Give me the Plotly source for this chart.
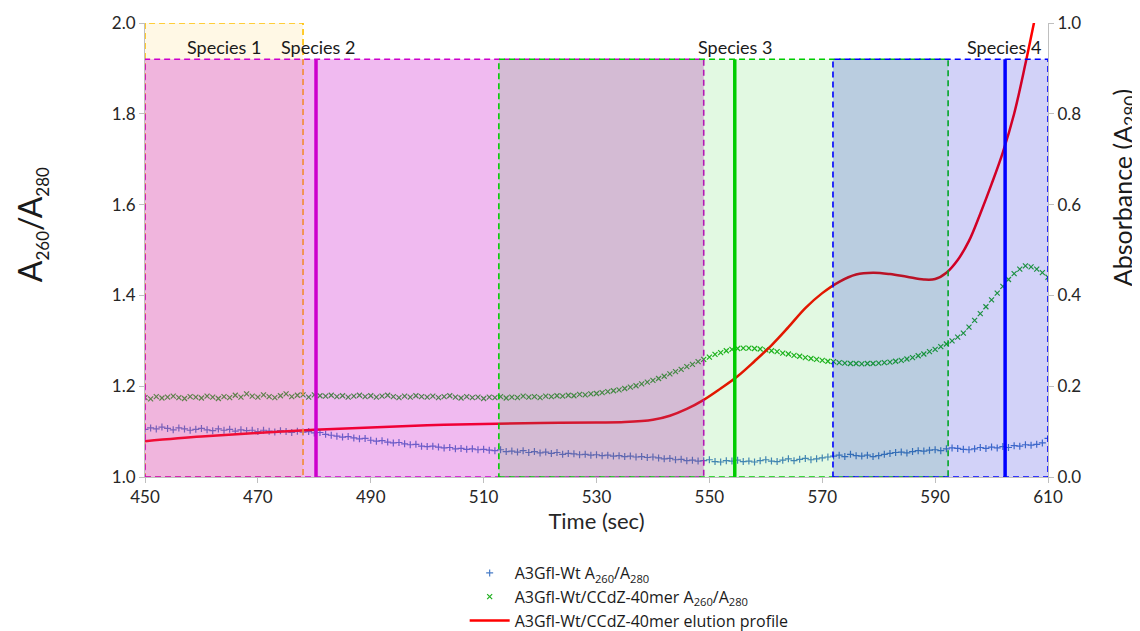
import plotly.graph_objects as go

# ---------------- data ----------------
time_ratio = list(range(450, 611))

wt_ratio = [
    1.105, 1.108, 1.106, 1.110, 1.107, 1.104, 1.108, 1.106, 1.103, 1.105,
    1.107, 1.104, 1.102, 1.106, 1.103, 1.105, 1.101, 1.104, 1.102, 1.103,
    1.100, 1.103, 1.101, 1.099, 1.102, 1.100, 1.098, 1.101, 1.099, 1.100,
    1.097, 1.098, 1.094, 1.092, 1.090, 1.088, 1.089, 1.086, 1.084, 1.085,
    1.081, 1.079, 1.080, 1.077, 1.075, 1.076, 1.073, 1.071, 1.072, 1.068,
    1.067, 1.068, 1.066, 1.064, 1.065, 1.062, 1.063, 1.061, 1.062, 1.060,
    1.061, 1.059, 1.058, 1.060, 1.056, 1.057, 1.055, 1.058, 1.054, 1.056,
    1.053, 1.055, 1.052, 1.054, 1.050, 1.052, 1.051, 1.049, 1.050, 1.048,
    1.049, 1.047, 1.048, 1.046, 1.047, 1.045, 1.046, 1.044, 1.045, 1.043,
    1.044, 1.042, 1.040, 1.041, 1.038, 1.039, 1.036, 1.037, 1.035, 1.036,
    1.038, 1.034, 1.033, 1.036, 1.035, 1.037, 1.034, 1.035, 1.033, 1.036,
    1.038, 1.035, 1.034, 1.037, 1.040, 1.036, 1.039, 1.041, 1.038, 1.040,
    1.042, 1.044, 1.046, 1.048, 1.045, 1.050, 1.047, 1.046, 1.048, 1.045,
    1.047, 1.050, 1.052, 1.054, 1.055, 1.053, 1.056, 1.058, 1.057, 1.059,
    1.060, 1.058, 1.062, 1.064, 1.063, 1.061, 1.060, 1.062, 1.065, 1.063,
    1.066, 1.064, 1.067, 1.065, 1.069, 1.068, 1.071, 1.070, 1.072, 1.075,
    1.085,
]

complex_ratio = [
    1.175, 1.172, 1.177, 1.174, 1.176, 1.178, 1.175, 1.173, 1.177, 1.176,
    1.174, 1.178, 1.176, 1.173, 1.177, 1.175, 1.180, 1.176, 1.183, 1.178,
    1.176, 1.181, 1.177, 1.175, 1.179, 1.183, 1.177, 1.180, 1.181, 1.176,
    1.181, 1.179, 1.178, 1.180, 1.177, 1.179, 1.176, 1.178, 1.180, 1.177,
    1.179, 1.176, 1.178, 1.180, 1.177, 1.175, 1.178, 1.176, 1.179, 1.177,
    1.176, 1.178, 1.175, 1.177, 1.179, 1.176, 1.174, 1.177, 1.175, 1.176,
    1.173, 1.176, 1.175, 1.177, 1.174, 1.176, 1.175, 1.178, 1.176, 1.177,
    1.175, 1.178, 1.177, 1.179, 1.178, 1.180, 1.179, 1.182, 1.181, 1.183,
    1.184, 1.186, 1.188, 1.190, 1.192, 1.195, 1.198, 1.201, 1.205, 1.209,
    1.213, 1.217, 1.222, 1.227, 1.232, 1.237, 1.243, 1.248, 1.254, 1.259,
    1.264, 1.270, 1.274, 1.278, 1.281, 1.283, 1.284, 1.284, 1.283, 1.282,
    1.280, 1.278, 1.276, 1.273, 1.271, 1.268, 1.266, 1.263, 1.261, 1.259,
    1.257, 1.255, 1.254, 1.252, 1.251, 1.250, 1.250, 1.249, 1.250, 1.250,
    1.251, 1.252, 1.253, 1.255, 1.257, 1.260, 1.263, 1.267, 1.271, 1.276,
    1.281, 1.287, 1.293, 1.300, 1.308, 1.317, 1.330, 1.345, 1.360, 1.375,
    1.390, 1.405, 1.420, 1.435, 1.448, 1.458, 1.465, 1.463, 1.458, 1.450,
    1.440,
]

time_elution = [450, 460, 470, 480, 490, 500, 510, 520, 530, 535, 540, 543, 546,
                549, 552, 555, 558, 561, 564, 567, 570, 573, 576, 579, 582, 585,
                588, 590, 592, 594, 596, 598, 600, 602, 604, 606, 608]
elution_a280 = [0.079, 0.089, 0.097, 0.104, 0.109, 0.114, 0.117, 0.119, 0.120,
                0.121, 0.126, 0.135, 0.150, 0.170, 0.195, 0.222, 0.255, 0.290,
                0.330, 0.372, 0.405, 0.430, 0.446, 0.450, 0.447, 0.441, 0.435,
                0.436, 0.450, 0.478, 0.520, 0.580, 0.645, 0.715, 0.800, 0.910,
                1.030]

species_labels = ["Species 1", "Species 2", "Species 3", "Species 4"]
species_start = [450, 450, 512.7, 571.9]
species_end = [478, 549, 592.3, 610]
species_top = [2.0, 1.92, 1.92, 1.92]
species_peak = [None, 480.3, 554.5, 602.4]
species_label_x = [464, 480.6, 554.5, 602.2]
species_edge_color = ["#FFC000", "#CC00CC", "#00CC00", "#0000FF"]
species_fill = ["rgba(255,190,0,0.10)", "rgba(200,0,200,0.27)",
                "rgba(0,200,0,0.115)", "rgba(0,0,215,0.175)"]

x_ticks = list(range(450, 611, 20))

# ---------------- figure ----------------
FONT = "Lato, 'Open Sans', Arial, sans-serif"
LEGEND_FONT = "'Open Sans', Lato, Arial, sans-serif"
BLUE = "#4A7EC8"
GREEN = "#22B022"

fig = go.Figure()

fig.add_trace(go.Scatter(
    x=time_ratio, y=wt_ratio, mode="markers",
    name="A3Gfl-Wt A<sub>260</sub>/A<sub>280</sub>",
    marker=dict(symbol="cross-thin", size=5, color=BLUE,
                line=dict(width=1.2, color=BLUE)),
))
fig.add_trace(go.Scatter(
    x=time_ratio, y=complex_ratio, mode="markers",
    name="A3Gfl-Wt/CCdZ-40mer A<sub>260</sub>/A<sub>280</sub>",
    marker=dict(symbol="x-thin", size=5, color=GREEN,
                line=dict(width=1.2, color=GREEN)),
))
fig.add_trace(go.Scatter(
    x=time_elution, y=elution_a280, mode="lines", yaxis="y2",
    name="A3Gfl-Wt/CCdZ-40mer elution profile",
    line=dict(color="#FF0000", width=2.5, shape="spline", smoothing=1.0),
))

shapes = []
for i in range(len(species_labels)):
    shapes.append(dict(
        type="rect", xref="x", yref="y", layer="above",
        x0=species_start[i], x1=species_end[i], y0=1.0, y1=species_top[i],
        fillcolor=species_fill[i],
        line=dict(color=species_edge_color[i], width=1.6, dash="6px,4px"),
    ))
for i in range(len(species_labels)):
    if species_peak[i] is not None:
        shapes.append(dict(
            type="line", xref="x", yref="y", layer="above",
            x0=species_peak[i], x1=species_peak[i], y0=1.0, y1=species_top[i],
            line=dict(color=species_edge_color[i], width=3.5),
        ))

annotations = []
for i in range(len(species_labels)):
    annotations.append(dict(
        x=species_label_x[i], y=1.947, xref="x", yref="y",
        text=species_labels[i], showarrow=False,
        font=dict(family=FONT, size=18, color="#1a1a1a"),
        xanchor="center", yanchor="middle",
    ))
annotations.append(dict(
    x=-0.126, y=0.555, xref="paper", yref="paper",
    text="A<sub><span style='font-size:17px'>260</span></sub>/A"
         "<sub><span style='font-size:17px'>280</span></sub>",
    showarrow=False, textangle=-90,
    font=dict(family=FONT, size=32, color="#1a1a1a"),
    xanchor="center", yanchor="middle",
))
annotations.append(dict(
    x=1.0835, y=0.637, xref="paper", yref="paper",
    text="Absorbance (A<sub>280</sub>)", showarrow=False, textangle=-90,
    font=dict(family=FONT, size=25, color="#1a1a1a"),
    xanchor="center", yanchor="middle",
))

axis_common = dict(
    showgrid=False, zeroline=False, showline=True, linecolor="#BFBFBF",
    linewidth=1, ticks="outside", ticklen=5, tickcolor="#BFBFBF",
    tickfont=dict(family=FONT, size=17, color="#262626"),
)

# the page body adds an 8px offset, so the figure is 8px smaller each way
fig.update_layout(
    width=1132, height=623,
    paper_bgcolor="white", plot_bgcolor="white",
    margin=dict(l=137, r=92, t=15, b=154, autoexpand=False),
    font=dict(family=FONT, color="#262626"),
    xaxis=dict(range=[450, 610], tickvals=x_ticks,
               title=dict(text="Time (sec)", font=dict(family=FONT, size=22),
                          standoff=2),
               **axis_common),
    yaxis=dict(range=[1.0, 2.0], dtick=0.2, tickformat=".1f", **axis_common),
    yaxis2=dict(range=[0, 1.0], dtick=0.2, tickformat=".1f", overlaying="y",
                side="right", **axis_common),
    shapes=shapes,
    annotations=annotations,
    showlegend=True,
    legend=dict(x=0.354, y=-0.174, xanchor="left", yanchor="top",
                bgcolor="rgba(0,0,0,0)",
                font=dict(family=LEGEND_FONT, size=16, color="#1a1a1a"),
                tracegroupgap=0, itemwidth=40),
)

fig.write_html("out.html")
